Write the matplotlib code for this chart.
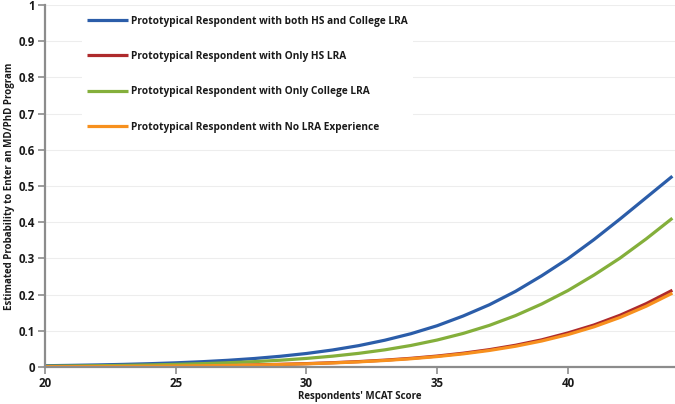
import matplotlib
matplotlib.use("Agg")
import matplotlib.pyplot as plt
from matplotlib.ticker import FuncFormatter

mcat = list(range(20, 45))

both_hs_college = [0.0035, 0.0045, 0.0057, 0.0072, 0.0091, 0.0115, 0.0146, 0.0185,
                   0.0234, 0.0296, 0.0373, 0.047, 0.059, 0.074, 0.092, 0.114,
                   0.141, 0.172, 0.209, 0.252, 0.299, 0.352, 0.409, 0.468, 0.527]
only_hs = [0.00085, 0.00108, 0.00137, 0.00174, 0.0022, 0.0028, 0.0036, 0.0045,
           0.0058, 0.0073, 0.0093, 0.0118, 0.0149, 0.0189, 0.0239, 0.0302,
           0.0381, 0.0479, 0.060, 0.075, 0.094, 0.116, 0.143, 0.175, 0.212]
only_college = [0.0022, 0.0028, 0.0035, 0.0045, 0.0057, 0.0072, 0.0092, 0.0117,
                0.0148, 0.0187, 0.0237, 0.0299, 0.0377, 0.0474, 0.0595, 0.0745,
                0.0928, 0.115, 0.142, 0.174, 0.211, 0.254, 0.301, 0.354, 0.411]
no_lra = [0.00081, 0.00103, 0.0013, 0.00166, 0.0021, 0.0027, 0.0034, 0.0043,
          0.0055, 0.0070, 0.0088, 0.0112, 0.0142, 0.0180, 0.0228, 0.0288,
          0.0363, 0.0457, 0.0573, 0.0718, 0.0895, 0.111, 0.137, 0.168, 0.204]

labels = ["Prototypical Respondent with both HS and College LRA",
          "Prototypical Respondent with Only HS LRA",
          "Prototypical Respondent with Only College LRA",
          "Prototypical Respondent with No LRA Experience"]
colors = ["#2B5DA9", "#AE2A2C", "#84AF3B", "#F7901E"]

x_ticks = [20, 25, 30, 35, 40]
y_ticks = [0, 0.1, 0.2, 0.3, 0.4, 0.5, 0.6, 0.7, 0.8, 0.9, 1]

plt.rcParams['font.family'] = ['Open Sans', 'DejaVu Sans']

fig = plt.figure(figsize=(6.75, 4.04), dpi=100)
ax = fig.add_axes([0.0667, 0.0916, 0.9333, 0.896])

series = [both_hs_college, only_hs, only_college, no_lra]
for vals, lab, col in zip(series, labels, colors):
    ax.plot(mcat, vals, color=col, lw=2.3, label=lab, solid_capstyle='butt')

ax.set_xlim(20, 44.1)
ax.set_ylim(0, 1)
ax.set_xticks(x_ticks)
ax.set_yticks(y_ticks)
ax.yaxis.set_major_formatter(FuncFormatter(lambda v, p: f"{v:g}"))
ax.grid(axis='y', color='#EDEDED', lw=0.8)
ax.set_axisbelow(True)

for s in ['top', 'right']:
    ax.spines[s].set_visible(False)
for s in ['left', 'bottom']:
    ax.spines[s].set_color('#8C8C8C')
    ax.spines[s].set_linewidth(1.6)
ax.tick_params(axis='both', colors='#8C8C8C', length=5, width=1.2,
               labelcolor='#1A1A1A', labelsize=8.3)
ax.tick_params(axis='x', pad=2)
ax.tick_params(axis='y', pad=2)
for t in ax.get_xticklabels() + ax.get_yticklabels():
    t.set_fontweight('bold')

ax.set_xlabel("Respondents' MCAT Score", fontsize=7, fontweight='bold',
              color='#1A1A1A', labelpad=1)
ax.set_ylabel("Estimated Probability to Enter an MD/PhD Program", fontsize=7,
              fontweight='bold', color='#1A1A1A', labelpad=3)

leg = ax.legend(loc='upper left', bbox_to_anchor=(0.05, 1.0), frameon=True,
                facecolor='white', edgecolor='none', framealpha=1,
                fontsize=7.3, handlelength=4.0, handletextpad=0.3,
                labelspacing=2.4, borderpad=0.55)
for t in leg.get_texts():
    t.set_fontweight('bold')
    t.set_color('#1A1A1A')

fig.savefig("out.png", dpi=100)
